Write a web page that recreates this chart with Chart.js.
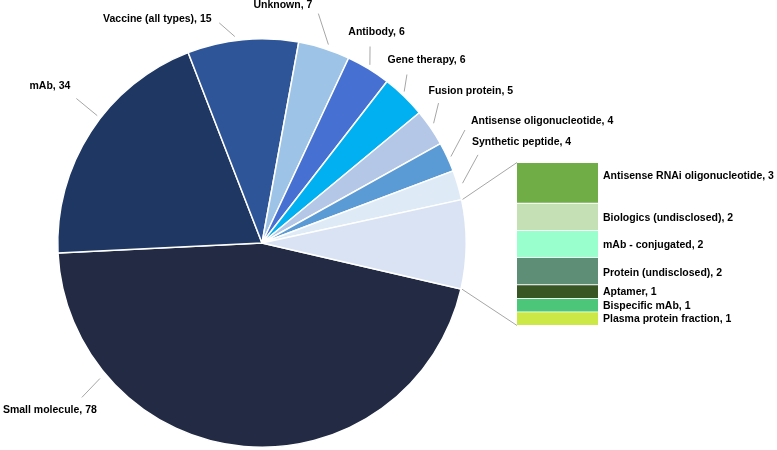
<!DOCTYPE html>
<html>
<head>
<meta charset="utf-8">
<script src="https://cdn.jsdelivr.net/npm/chart.js@4.4.1/dist/chart.umd.min.js"></script>
<style>
html, body { margin: 0; padding: 0; background: #ffffff; }
#wrap { position: relative; width: 777px; height: 450px; overflow: hidden; }
#wrap canvas { position: absolute; left: 0; top: 0; }
</style>
</head>
<body>
<div id="wrap">
  <canvas id="pie" width="777" height="450"></canvas>
  <canvas id="bar" width="777" height="450"></canvas>
</div>
<script>
// ---------------- DATA ----------------
const pieCategories = ["Small molecule", "mAb", "Vaccine (all types)", "Unknown", "Antibody",
  "Gene therapy", "Fusion protein", "Antisense oligonucleotide", "Synthetic peptide", "Other"];
const pieMainValues = [78, 34, 15, 7, 6, 6, 5, 4, 4];

const barCategories = ["Antisense RNAi oligonucleotide", "Biologics (undisclosed)", "mAb - conjugated",
  "Protein (undisclosed)", "Aptamer", "Bispecific mAb", "Plasma protein fraction"];
const barValues = [3, 2, 2, 2, 1, 1, 1];

// "Other" slice of the main pie is the sum of the secondary bar
const otherTotal = barValues.reduce((a, b) => a + b, 0);
const pieValues = pieMainValues.concat([otherTotal]);

// ---------------- STYLE ----------------
const pieColors = ["#222A44", "#1F3763", "#2E5597", "#9DC3E6", "#4670D1",
  "#00B0F0", "#B4C7E7", "#5B9BD5", "#DEEBF7", "#DAE3F3"];
const barColors = ["#70AD47", "#C5E0B4", "#99FFCC", "#5E8E76", "#375623", "#4CC77A", "#CBE846"];

const FONT = "bold 10.5px 'Liberation Sans', Arial, sans-serif";
const TEXT_COLOR = "#000000";
const LEADER_COLOR = "#A6A6A6";

// label placement (angles clockwise from 12 o'clock, distances beyond the pie radius)
const pieLabelLayout = [
  { a0: 230.1, d0: 7,   a1: 229.4, d1: 33, dx: -32,   dy: 13,    align: "center" },
  { a0: 307.7, d0: 4,   a1: 307.9, d1: 31, dx: -6,    dy: -12.6, align: "right" },
  { a0: 352.5, d0: 4,   a1: 349.0, d1: 20, dx: -7.6,  dy: -3.4,  align: "right" },
  { a0: 18.5,  d0: 5,   a1: 13.8,  d1: 32, dx: -6,    dy: -8.0,  align: "right" },
  { a0: 31.2,  d0: 4,   a1: 28.8,  d1: 20, dx: -21.7, dy: -14.4, align: "left" },
  { a0: 43.2,  d0: 3.5, a1: 40.7,  d1: 18, dx: -19.4, dy: -14,   align: "left" },
  { a0: 55.1,  d0: 5,   a1: 51.6,  d1: 21, dx: -10,   dy: -11.6, align: "left" },
  { a0: 65.4,  d0: 3.5, a1: 60.9,  d1: 28, dx: 6,     dy: -9.3,  align: "left" },
  { a0: 73.4,  d0: 5,   a1: 67.8,  d1: 29, dx: -6,    dy: -12.3, align: "left" },
  null
];
// vertical nudges of the bar labels relative to their segment centres
const barLabelNudge = [-7, 1.5, 1.5, 1.5, 1, 1, 0.5];

function polar(cx, cy, deg, dist) {
  const a = deg * Math.PI / 180 - Math.PI / 2;
  return { x: cx + dist * Math.cos(a), y: cy + dist * Math.sin(a) };
}

const pieLabelPlugin = {
  id: "pieLabels",
  afterDraw(chart) {
    const ctx = chart.ctx;
    const meta = chart.getDatasetMeta(0);
    const values = chart.data.datasets[0].data;
    ctx.save();
    ctx.font = FONT;
    ctx.textBaseline = "middle";
    meta.data.forEach((arc, i) => {
      const L = pieLabelLayout[i];
      if (!L) return;
      const p = arc.getProps(["x", "y", "outerRadius"], true);
      const s = polar(p.x, p.y, L.a0, p.outerRadius + L.d0);
      const e = polar(p.x, p.y, L.a1, p.outerRadius + L.d1);
      ctx.strokeStyle = LEADER_COLOR;
      ctx.lineWidth = 1;
      ctx.beginPath();
      ctx.moveTo(s.x, s.y);
      ctx.lineTo(e.x, e.y);
      ctx.stroke();
      ctx.fillStyle = TEXT_COLOR;
      ctx.textAlign = L.align;
      ctx.fillText(chart.data.labels[i] + ", " + values[i], e.x + L.dx, e.y + L.dy);
    });
    ctx.restore();
  }
};

const pieChart = new Chart(document.getElementById("pie"), {
  type: "pie",
  data: {
    labels: pieCategories,
    datasets: [{
      data: pieValues,
      backgroundColor: pieColors,
      borderColor: "#ffffff",
      borderWidth: 1.5
    }]
  },
  options: {
    responsive: false,
    animation: false,
    rotation: 103,
    layout: { padding: { left: 57, right: 310, top: 38, bottom: 2 } },
    plugins: { legend: { display: false }, tooltip: { enabled: false } }
  },
  plugins: [pieLabelPlugin]
});

const barLabelPlugin = {
  id: "barLabels",
  afterDraw(chart) {
    const ctx = chart.ctx;
    ctx.save();
    // connector lines from the "Other" slice to the stacked bar
    const pieMeta = pieChart.getDatasetMeta(0);
    const otherArc = pieMeta.data[pieMeta.data.length - 1];
    const a = otherArc.getProps(["x", "y", "startAngle", "endAngle", "outerRadius"], true);
    const firstBar = chart.getDatasetMeta(0).data[0].getProps(["x", "y", "base", "width"], true);
    const lastBar = chart.getDatasetMeta(chart.data.datasets.length - 1).data[0].getProps(["x", "y", "base", "width"], true);
    const left = firstBar.x - firstBar.width / 2;
    const top = Math.min(firstBar.y, firstBar.base);
    const bottom = Math.max(lastBar.y, lastBar.base);
    const r = a.outerRadius + 1;
    ctx.strokeStyle = LEADER_COLOR;
    ctx.lineWidth = 1;
    ctx.beginPath();
    ctx.moveTo(a.x + r * Math.cos(a.startAngle), a.y + r * Math.sin(a.startAngle));
    ctx.lineTo(left, top);
    ctx.moveTo(a.x + r * Math.cos(a.endAngle), a.y + r * Math.sin(a.endAngle));
    ctx.lineTo(left, bottom);
    ctx.stroke();

    // segment labels
    ctx.font = FONT;
    ctx.fillStyle = TEXT_COLOR;
    ctx.textAlign = "left";
    ctx.textBaseline = "middle";
    chart.data.datasets.forEach((ds, i) => {
      const el = chart.getDatasetMeta(i).data[0].getProps(["x", "y", "base", "width"], true);
      const tx = el.x + el.width / 2 + 5;
      const ty = (el.y + el.base) / 2 + barLabelNudge[i];
      ctx.fillText(ds.label + ", " + ds.data[0], tx, ty);
    });
    ctx.restore();
  }
};

new Chart(document.getElementById("bar"), {
  type: "bar",
  data: {
    labels: ["Other"],
    datasets: barCategories.map((c, i) => ({
      label: c,
      data: [barValues[i]],
      backgroundColor: barColors[i],
      borderColor: "#ffffff",
      borderWidth: { top: 0.75, bottom: 0.75, left: 0, right: 0 },
      borderSkipped: false,
      barPercentage: 1,
      categoryPercentage: 1
    }))
  },
  options: {
    responsive: false,
    animation: false,
    layout: { padding: { left: 517, right: 179, top: 162.5, bottom: 124.5 } },
    scales: {
      x: { display: false, stacked: true },
      y: { display: false, stacked: true, reverse: true, min: 0, max: otherTotal }
    },
    plugins: { legend: { display: false }, tooltip: { enabled: false } }
  },
  plugins: [barLabelPlugin]
});
</script>
</body>
</html>
